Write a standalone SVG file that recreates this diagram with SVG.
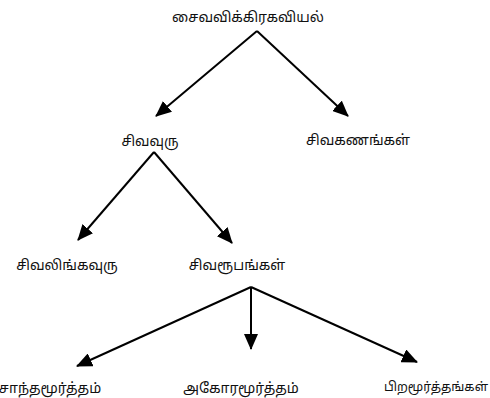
<svg xmlns="http://www.w3.org/2000/svg" width="490" height="398" viewBox="0 0 490 398">
<style>
text{font-family:"Noto Sans Tamil","Lohit Tamil","Noto Sans","DejaVu Sans",sans-serif;font-size:14px;fill:#111;text-anchor:middle}
.c{stroke:#000;stroke-width:2;fill:none;marker-end:url(#ah)}
</style>
<defs>
<marker id="ah" markerUnits="userSpaceOnUse" markerWidth="16" markerHeight="14" viewBox="0 0 16 14" refX="15" refY="7" orient="auto">
<path d="M0,0 L16,7 L0,14 Z" fill="#000"/>
</marker>
</defs>
<rect width="490" height="398" fill="#fff"/>
<g id="connectors">
<path class="c" d="M257,31 L156,116"/>
<path class="c" d="M257,31 L348,116"/>
<path class="c" d="M154,152 L78,240"/>
<path class="c" d="M154,152 L232,243"/>
<path class="c" d="M251,287 L77,366"/>
<path class="c" d="M251,287 L251,349"/>
<path class="c" d="M251,287 L417,362"/>
</g>
<g id="n1"><text x="248" y="22">சைவவிக்கிரகவியல்</text></g>
<g id="n2"><text x="150" y="146" textLength="57" lengthAdjust="spacingAndGlyphs">சிவவுரு</text></g>
<g id="n3"><text x="358" y="145">சிவகணங்கள்</text></g>
<g id="n4"><text x="67" y="270">சிவலிங்கவுரு</text></g>
<g id="n5"><text x="237" y="270">சிவரூபங்கள்</text></g>
<g id="n6"><text x="50" y="393">சாந்தமூர்த்தம்</text></g>
<g id="n7"><text x="241" y="393">அகோரமூர்த்தம்</text></g>
<g id="n8"><text x="436" y="391" style="font-size:12.5px">பிறமூர்த்தங்கள்</text></g>
</svg>
